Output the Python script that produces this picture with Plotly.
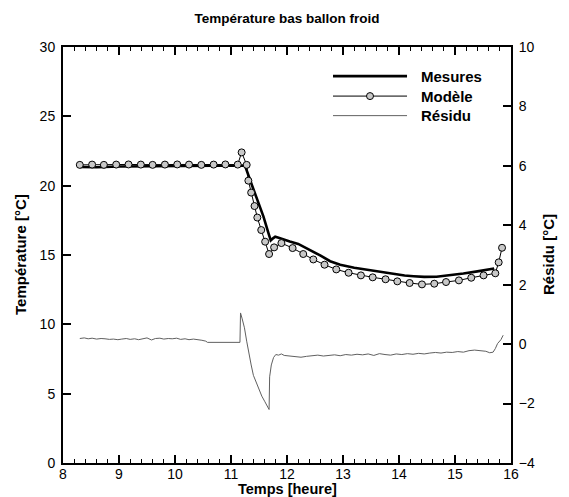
import plotly.graph_objects as go

# ---------------- data ----------------
mes_t = [8.30, 8.60, 9.00, 9.50, 10.00, 10.50, 11.00, 11.15, 11.22, 11.25, 11.35, 11.43, 11.50,
         11.58, 11.67, 11.71, 11.75, 11.79, 11.85, 11.93, 12.05, 12.20, 12.40, 12.60, 12.77,
         12.95, 13.20, 13.45, 13.66, 13.90, 14.10, 14.26, 14.45, 14.67, 14.90, 15.15, 15.40,
         15.60, 15.70]
mes_v = [21.35, 21.33, 21.38, 21.40, 21.40, 21.43, 21.45, 21.45, 21.50, 21.45, 20.30, 19.45, 18.60,
         17.77, 16.56, 16.05, 16.20, 16.32, 16.25, 16.12, 15.98, 15.80, 15.40, 14.95, 14.55,
         14.30, 14.08, 13.92, 13.80, 13.62, 13.52, 13.47, 13.42, 13.43, 13.52, 13.66, 13.82,
         13.95, 14.02]

mod_t = [8.30, 8.52, 8.73, 8.95, 9.17, 9.39, 9.60, 9.82, 10.04, 10.25, 10.47, 10.69, 10.90, 11.12,
         11.19, 11.28, 11.31, 11.36, 11.42, 11.47, 11.54, 11.61, 11.68, 11.77, 11.90, 12.10,
         12.29, 12.47, 12.67, 12.88, 13.10, 13.32, 13.53, 13.76, 13.97, 14.19, 14.41, 14.63,
         14.84, 15.07, 15.29, 15.51, 15.72, 15.78, 15.84]
mod_v = [21.50, 21.52, 21.50, 21.52, 21.53, 21.52, 21.50, 21.52, 21.53, 21.52, 21.50, 21.52, 21.53, 21.52,
         22.40, 21.50, 20.36, 19.50, 18.53, 17.70, 16.80, 15.96, 15.07, 15.55, 15.86, 15.50,
         15.07, 14.68, 14.30, 13.96, 13.72, 13.53, 13.39, 13.25, 13.10, 12.98, 12.88, 12.93,
         13.05, 13.17, 13.36, 13.53, 13.68, 14.47, 15.52]

res_t = [8.30, 8.38, 8.45, 8.52, 8.60, 8.68, 8.75, 8.83, 8.90, 8.98, 9.05, 9.13, 9.20, 9.28, 9.35,
         9.43, 9.50, 9.58, 9.65, 9.73, 9.80, 9.88, 9.95, 10.03, 10.10, 10.18, 10.25, 10.33, 10.40,
         10.48, 10.55, 10.58, 11.16, 11.17, 11.20, 11.24, 11.28, 11.32, 11.36, 11.40, 11.45, 11.50,
         11.55, 11.60, 11.65, 11.68, 11.69, 11.72, 11.76, 11.80, 11.85, 11.90, 11.95, 12.05, 12.15,
         12.25, 12.35, 12.45, 12.55, 12.65, 12.75, 12.85, 12.95, 13.05, 13.15, 13.25, 13.35, 13.45,
         13.55, 13.65, 13.75, 13.85, 13.95, 14.05, 14.15, 14.25, 14.35, 14.45, 14.55, 14.65, 14.75,
         14.85, 14.95, 15.05, 15.15, 15.25, 15.35, 15.45, 15.55, 15.62, 15.68, 15.72, 15.76, 15.82,
         15.86]
res_v = [0.19, 0.21, 0.18, 0.20, 0.17, 0.19, 0.18, 0.16, 0.17, 0.15, 0.17, 0.19, 0.16, 0.18, 0.15,
         0.17, 0.21, 0.14, 0.19, 0.20, 0.17, 0.19, 0.18, 0.20, 0.16, 0.18, 0.15, 0.17, 0.16,
         0.13, 0.10, 0.06, 0.06, 1.05, 0.85, 0.55, 0.10, -0.35, -0.70, -1.05, -1.30, -1.55,
         -1.75, -1.92, -2.08, -2.20, -1.10, -0.70, -0.45, -0.35, -0.37, -0.33, -0.38, -0.40, -0.42,
         -0.44, -0.41, -0.40, -0.37, -0.40, -0.38, -0.36, -0.39, -0.35, -0.37, -0.34, -0.36, -0.33,
         -0.38, -0.32, -0.35, -0.37, -0.33, -0.35, -0.32, -0.34, -0.31, -0.33, -0.30, -0.28, -0.30,
         -0.27, -0.28, -0.25, -0.27, -0.22, -0.20, -0.23, -0.24, -0.29, -0.27, -0.15, 0.02, 0.15,
         0.30]

legend_names = ["Mesures", "Modèle", "Résidu"]

# ---------------- figure ----------------
FONT = "Liberation Sans, Arial, sans-serif"
W, H = 561, 489          # page body has an 8 px margin; keep the figure inside the window
L, T, PW, PH = 55, 39, 448, 416

fig = go.Figure()
fig.add_trace(go.Scatter(x=res_t, y=res_v, yaxis="y2", mode="lines", name=legend_names[2],
                         line=dict(color="#606060", width=1), showlegend=False))
fig.add_trace(go.Scatter(x=mes_t, y=mes_v, mode="lines", name=legend_names[0],
                         line=dict(color="black", width=2.6), showlegend=False))
fig.add_trace(go.Scatter(x=mod_t, y=mod_v, mode="lines+markers", name=legend_names[1],
                         line=dict(color="black", width=1),
                         marker=dict(symbol="circle", size=7, color="#c8c8c8",
                                     line=dict(color="black", width=1)),
                         showlegend=False))

axis_common = dict(showgrid=False, zeroline=False, showline=True, linecolor="black",
                   linewidth=2, ticks="inside", tickcolor="black", tickwidth=2, ticklen=8,
                   tickfont=dict(family=FONT, size=14, color="black"))

fig.update_layout(
    width=W, height=H,
    paper_bgcolor="white", plot_bgcolor="white",
    margin=dict(l=L, r=W - L - PW, t=T, b=H - T - PH, autoexpand=False),
    title=dict(text="<b>Température bas ballon froid</b>", x=0.5, xref="paper",
               y=1 - 10 / H, yref="container", yanchor="middle",
               font=dict(family=FONT, size=13.5, color="black")),
    xaxis=dict(range=[8, 16], dtick=1, tick0=8, mirror="ticks", ticklabelstandoff=-3,
               minor=dict(dtick=0.2, ticks="inside", ticklen=4, tickwidth=1, tickcolor="black"),
               **axis_common),
    yaxis=dict(range=[0, 30], dtick=5, tick0=0, ticklabelstandoff=3, **axis_common),
    yaxis2=dict(range=[-4, 10], dtick=2, tick0=-4, overlaying="y", side="right",
                ticklabelstandoff=3, **axis_common),
)

# axis titles
TFONT = dict(family=FONT, size=15, color="black")
fig.add_annotation(xref="paper", yref="paper", x=0.5, y=(T + PH - 481) / PH,
                   text="<b>Temps [heure]</b>", showarrow=False, xanchor="center",
                   yanchor="middle", font=dict(family=FONT, size=14.5, color="black"))
fig.add_annotation(xref="paper", yref="paper", x=(12 - L) / PW, y=0.5,
                   text="<b>Température [°C]</b>", showarrow=False, textangle=-90,
                   xanchor="center", yanchor="middle", font=TFONT)
fig.add_annotation(xref="paper", yref="paper", x=(540 - L) / PW, y=0.5,
                   text="<b>Résidu [°C]</b>", showarrow=False, textangle=-90,
                   xanchor="center", yanchor="middle", font=TFONT)

# manual legend (long sample lines like the original)
leg_x0, leg_x1, leg_tx = 0.6027, 0.7679, 0.795
leg_y = [0.930, 0.882, 0.835]
leg_styles = [dict(color="black", width=2.6), dict(color="black", width=1),
              dict(color="#606060", width=1)]
for name, yy, st in zip(legend_names, leg_y, leg_styles):
    fig.add_shape(type="line", xref="paper", yref="paper", x0=leg_x0, x1=leg_x1, y0=yy, y1=yy,
                  line=st)
    fig.add_annotation(xref="paper", yref="paper", x=leg_tx, y=yy, text="<b>" + name + "</b>",
                       showarrow=False, xanchor="left", yanchor="middle",
                       font=dict(family=FONT, size=15, color="black"))
cx = (leg_x0 + leg_x1) / 2
fig.add_shape(type="circle", xref="paper", yref="paper",
              x0=cx - 3.5 / PW, x1=cx + 3.5 / PW, y0=leg_y[1] - 3.5 / PH, y1=leg_y[1] + 3.5 / PH,
              fillcolor="#c8c8c8", line=dict(color="black", width=1))

fig.write_html("out.html")
